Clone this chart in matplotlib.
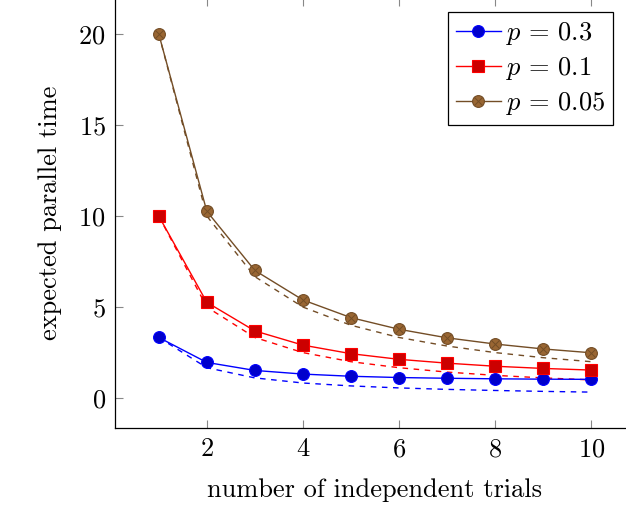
import matplotlib
matplotlib.use("Agg")
import matplotlib.pyplot as plt

plt.rcParams["font.family"] = "serif"
plt.rcParams["font.serif"] = ["cmr10"]
plt.rcParams["mathtext.fontset"] = "cm"
plt.rcParams["axes.unicode_minus"] = False
plt.rcParams["axes.formatter.use_mathtext"] = True

# number of trials
n = [1, 2, 3, 4, 5, 6, 7, 8, 9, 10]

# expected parallel time (solid)
t_03 = [3.33, 1.96, 1.52, 1.32, 1.20, 1.13, 1.09, 1.06, 1.04, 1.03]
t_01 = [10.0, 5.26, 3.69, 2.91, 2.44, 2.13, 1.92, 1.75, 1.63, 1.54]
t_005 = [20.0, 10.26, 7.01, 5.39, 4.42, 3.78, 3.31, 2.97, 2.70, 2.49]

# ideal values (dashed)
d_03 = [3.33, 1.67, 1.11, 0.83, 0.67, 0.56, 0.48, 0.42, 0.37, 0.33]
d_01 = [10.0, 5.0, 3.33, 2.5, 2.0, 1.67, 1.43, 1.25, 1.11, 1.0]
d_005 = [20.0, 10.0, 6.67, 5.0, 4.0, 3.33, 2.86, 2.5, 2.22, 2.0]

labels = [r"$p\,=\,0.3$", r"$p\,=\,0.1$", r"$p\,=\,0.05$"]

blue = (0, 0, 1)
red = (1, 0, 0)
brown = (0.45, 0.3, 0.15)

fig = plt.figure(figsize=(6.26, 5.05), dpi=100)
ax = fig.add_axes([0.1845, 0.1525, 0.829, 0.8515])

ax.plot(n, d_03, color=blue, lw=1.0, ls=(0, (4, 4)))
ax.plot(n, d_01, color=red, lw=1.0, ls=(0, (4, 4)))
ax.plot(n, d_005, color=brown, lw=1.0, ls=(0, (4, 4)))

h1, = ax.plot(n, t_03, color=blue, lw=1.0, marker="o", ms=8.5,
              mfc=(0, 0, 0.8), mec=blue, mew=0.8)
h2, = ax.plot(n, t_01, color=red, lw=1.0, marker="s", ms=8,
              mfc=(0.8, 0, 0), mec=red, mew=0.8)
h3, = ax.plot(n, t_005, color=brown, lw=1.0, marker="o", ms=8.5,
              mfc=(0.6, 0.4, 0.2), mec=brown, mew=0.8)
h3x, = ax.plot(n, t_005, ls="none", marker="x", ms=5.5, mec=brown, mew=0.7)

ax.set_xlim(0.1, 10.9)
ax.set_ylim(-1.64, 21.97)
ax.set_xticks([2, 4, 6, 8, 10])
ax.set_yticks([0, 5, 10, 15, 20])

ax.tick_params(direction="in", length=6, width=0.8, color="#888888",
               top=True, right=True, labelsize=19, pad=7)
for s in ax.spines.values():
    s.set_linewidth(0.9)

ax.set_xlabel("number of independent trials", fontsize=19, labelpad=12)
ax.set_ylabel("expected parallel time", fontsize=19, labelpad=12)

leg = ax.legend([h1, h2, (h3, h3x)], labels, loc="upper left",
                bbox_to_anchor=(0.641, 0.967), fontsize=19, frameon=True,
                fancybox=False, edgecolor="black", framealpha=1,
                handlelength=1.7, borderpad=0.3, labelspacing=0.3,
                handletextpad=0.2, borderaxespad=0)
leg.get_frame().set_linewidth(0.9)

fig.savefig("out.png", dpi=100)
